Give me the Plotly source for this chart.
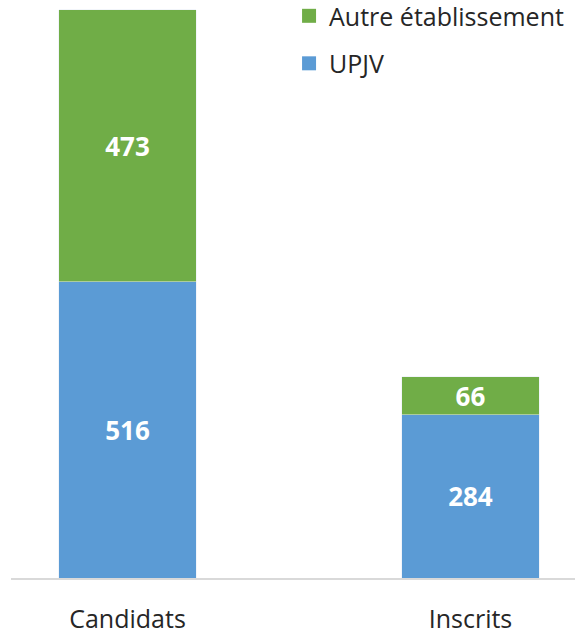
import plotly.graph_objects as go

categories = ["Candidats", "Inscrits"]
upjv = [516, 284]
autre = [473, 66]
series_names = ["UPJV", "Autre établissement"]

BLUE = "#5B9BD5"
GREEN = "#70AD47"
FONT = "Open Sans"

fig = go.Figure()
for vals, name, color in [(upjv, series_names[0], BLUE), (autre, series_names[1], GREEN)]:
    fig.add_trace(go.Bar(
        x=categories, y=vals, name=name, marker_color=color,
        text=[str(v) for v in vals], textposition="inside", insidetextanchor="middle",
        constraintext="none", textangle=0,
        textfont=dict(family=FONT, size=26, color="white", weight=700),
        showlegend=False, hoverinfo="skip",
    ))

# legend entries (square swatches)
for name, color, rank in [(series_names[1], GREEN, 1), (series_names[0], BLUE, 2)]:
    fig.add_trace(go.Scatter(
        x=[None], y=[None], mode="markers", name=name,
        marker=dict(symbol="square", size=14, color=color),
        legendrank=rank, legendgroup=name,
    ))

fig.update_layout(
    width=575, height=634,
    barmode="stack", bargap=0.6,
    plot_bgcolor="white", paper_bgcolor="white",
    margin=dict(l=11, r=0, t=0, b=56, autoexpand=False),
    font=dict(family=FONT, size=26, color="#262626"),
    showlegend=True,
    legend=dict(
        x=0.493, y=1.012, xanchor="left", yanchor="top",
        traceorder="grouped", tracegroupgap=12,
        font=dict(family=FONT, size=25, color="#262626"),
        bgcolor="rgba(0,0,0,0)",
    ),
    xaxis=dict(
        range=[-0.3397, 1.3047], showgrid=False, zeroline=False,
        showline=True, linecolor="#D9D9D9", linewidth=1.5,
        ticks="", ticklabelstandoff=18,
        tickfont=dict(family=FONT, size=25, color="#262626"),
    ),
    yaxis=dict(range=[0, 1006.4], visible=False, showgrid=False, zeroline=False),
)

fig.write_html("out.html", config={"displayModeBar": False},
               post_script="document.body.style.margin='0';")
